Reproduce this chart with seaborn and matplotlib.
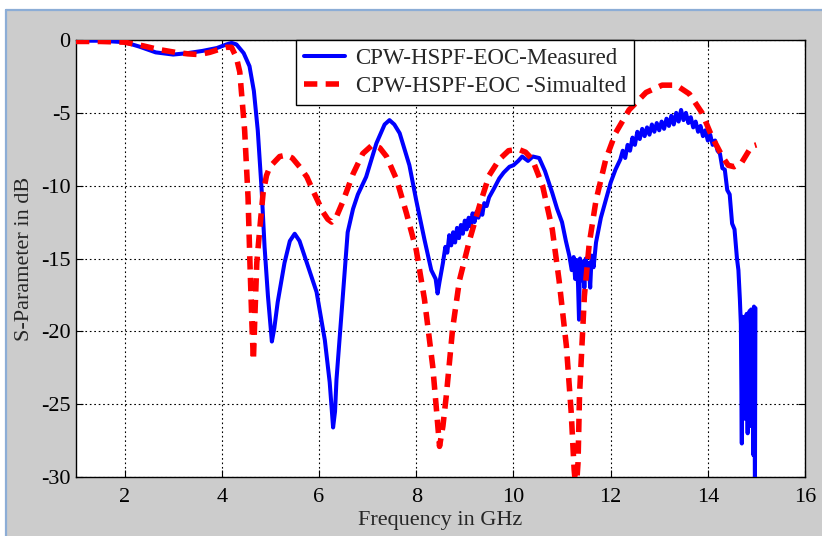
import matplotlib
matplotlib.use("Agg")
import matplotlib.pyplot as plt
from matplotlib.patches import Rectangle
from matplotlib.lines import Line2D
import pandas as pd
import seaborn as sns

# Measured response (GHz, dB), split into sweep segments
meas_freq_a = [
    1.00, 1.50, 2.00, 2.30, 2.64, 3.00, 3.30, 3.60, 3.90, 4.10, 4.20, 4.30,
    4.45, 4.57, 4.66, 4.74, 4.82, 4.88, 4.95, 5.03, 5.08, 5.15, 5.29, 5.40,
    5.50, 5.60, 5.75, 5.95, 6.12, 6.22, 6.29, 6.33, 6.36, 6.49, 6.59, 6.70,
    6.80, 6.97, 7.18, 7.35, 7.45, 7.55, 7.66, 7.86, 8.00, 8.17, 8.31, 8.40,
    8.44, 8.48,
]
meas_db_a = [
    -0.05, -0.05, -0.15, -0.45, -0.85, -1.00, -0.90, -0.75, -0.55, -0.30, -0.20, -0.30,
    -0.90, -1.80, -3.50, -6.20, -10.3, -14.2, -17.6, -20.7, -19.8, -18.0, -15.3, -13.8,
    -13.3, -13.8, -15.3, -17.3, -20.6, -23.5, -26.6, -25.5, -23.3, -17.6, -13.2, -11.6,
    -10.6, -9.40, -7.10, -5.80, -5.50, -5.80, -6.40, -8.60, -11.0, -13.7, -15.8, -16.4,
    -17.4, -16.6,
]
meas_freq_b = [
    8.55, 8.60, 8.64, 8.68, 8.72, 8.76, 8.80, 8.84, 8.88, 8.92, 8.96, 9.00,
    9.04, 9.08, 9.12, 9.16, 9.20, 9.24, 9.28, 9.32, 9.36, 9.40, 9.45, 9.50,
    9.55, 9.60, 9.71, 9.80, 9.92, 10.00, 10.10, 10.18, 10.30, 10.40, 10.53, 10.65,
    10.80, 10.90, 11.00, 11.08, 11.15,
]
meas_db_b = [
    -15.3, -14.2, -14.6, -13.4, -14.1, -13.2, -13.9, -12.9, -13.6, -12.7, -13.3, -12.4,
    -13.0, -12.2, -12.8, -11.9, -12.5, -11.8, -12.2, -11.5, -12.0, -11.2, -11.4, -10.8,
    -10.5, -10.2, -9.50, -9.10, -8.70, -8.60, -8.30, -8.00, -8.30, -8.00, -8.10, -9.00,
    -10.5, -11.6, -12.5, -13.8, -14.8,
]
meas_freq_c = [
    11.20, 11.24, 11.27, 11.30, 11.33, 11.35, 11.37, 11.40, 11.43, 11.46, 11.49, 11.52,
    11.55, 11.58, 11.61, 11.65, 11.70, 11.80, 11.90, 12.00, 12.10, 12.20,
]
meas_db_c = [
    -15.8, -14.9, -16.4, -15.1, -16.8, -19.2, -15.0, -16.5, -15.2, -17.0, -15.0, -16.3,
    -15.3, -17.0, -14.8, -15.6, -13.9, -12.2, -11.0, -9.80, -8.90, -8.20,
]
meas_freq_d = [
    12.25, 12.30, 12.35, 12.40, 12.45, 12.50, 12.55, 12.60, 12.65, 12.70, 12.75, 12.80,
    12.85, 12.90, 12.95, 13.00, 13.05, 13.10, 13.15, 13.20, 13.25, 13.30, 13.35, 13.40,
    13.45, 13.50, 13.55, 13.60, 13.65, 13.70, 13.75, 13.80, 13.85, 13.90, 13.95, 14.00,
    14.05, 14.10, 14.15, 14.20, 14.25, 14.30, 14.35, 14.40, 14.45, 14.50, 14.55, 14.60,
    14.63, 14.66,
]
meas_db_d = [
    -7.6, -8.1, -7.2, -7.6, -6.7, -7.2, -6.3, -6.8, -6.1, -6.6, -6.0, -6.5,
    -5.8, -6.3, -5.7, -6.2, -5.6, -6.1, -5.4, -5.9, -5.2, -5.8, -5.0, -5.6,
    -4.8, -5.5, -5.0, -5.7, -5.3, -6.0, -5.6, -6.3, -5.9, -6.6, -6.2, -6.9,
    -6.5, -7.2, -6.9, -7.6, -7.8, -8.8, -8.9, -10.3, -10.6, -12.6, -13.0, -15.0,
    -15.8, -17.8,
]
meas_freq_e = [
    14.68, 14.70, 14.71, 14.73, 14.74, 14.76, 14.77, 14.79, 14.80, 14.82, 14.83, 14.85,
    14.86, 14.88, 14.89, 14.91, 14.92, 14.94, 14.95, 14.97, 14.98,
]
meas_db_e = [
    -19.5, -27.7, -19.0, -24.5, -19.5, -26.0, -19.0, -23.5, -18.8, -27.0, -19.5, -25.0,
    -18.6, -26.5, -18.5, -24.0, -19.0, -28.5, -18.3, -30.5, -18.4,
]

# Simulated response (GHz, dB)
sim_freq = [
    1.00, 1.50, 2.00, 2.38, 2.70, 3.05, 3.30, 3.53, 3.75, 3.94, 4.10, 4.20,
    4.30, 4.37, 4.47, 4.54, 4.58, 4.62, 4.65, 4.68, 4.72, 4.78, 4.85, 4.92,
    4.99, 5.19, 5.33, 5.45, 5.60, 5.75, 5.87, 6.08, 6.18, 6.26, 6.35, 6.49,
    6.70, 6.90, 7.10, 7.25, 7.39, 7.60, 7.80, 8.00, 8.17, 8.34, 8.42, 8.48,
    8.55, 8.62, 8.75, 8.89, 9.10, 9.30, 9.50, 9.71, 9.90, 10.10, 10.25, 10.39,
    10.60, 10.80, 10.94, 11.09, 11.19, 11.25, 11.29, 11.33, 11.36, 11.46, 11.56, 11.70,
    11.90, 12.10, 12.38, 12.73, 13.06, 13.35, 13.62, 13.88, 14.08, 14.30, 14.42, 14.54,
    14.70, 14.90, 15.00,
]
sim_db = [
    -0.10, -0.10, -0.15, -0.40, -0.65, -0.85, -0.95, -1.00, -0.85, -0.65, -0.50, -0.50,
    -1.20, -2.20, -6.20, -10.8, -15.4, -19.5, -22.0, -19.0, -15.3, -13.0, -10.5, -9.30,
    -8.70, -8.00, -7.90, -8.10, -8.70, -9.40, -10.3, -11.8, -12.3, -12.5, -12.2, -11.1,
    -9.20, -7.80, -7.20, -7.40, -8.00, -9.60, -11.9, -14.4, -17.8, -22.4, -25.5, -27.9,
    -26.5, -24.4, -19.8, -16.5, -13.7, -11.4, -9.30, -8.20, -7.60, -7.50, -7.70, -8.20,
    -10.0, -13.0, -16.5, -21.0, -25.6, -29.5, -31.0, -29.0, -24.4, -17.6, -14.0, -11.0,
    -8.20, -6.40, -4.80, -3.60, -3.10, -3.10, -3.70, -5.00, -6.60, -8.00, -8.60, -8.70,
    -8.40, -7.30, -7.20,
]

label_meas = "CPW-HSPF-EOC-Measured"
label_sim = "CPW-HSPF-EOC -Simualted"

x_ticks = [2, 4, 6, 8, 10, 12, 14, 16]
y_ticks = [0, -5, -10, -15, -20, -25, -30]

meas_freq = meas_freq_a + meas_freq_b + meas_freq_c + meas_freq_d + meas_freq_e
meas_db = meas_db_a + meas_db_b + meas_db_c + meas_db_d + meas_db_e

sns.set_style("ticks")
plt.rcParams["font.family"] = ["Liberation Serif", "DejaVu Serif"]

W, H = 822, 536
fig = plt.figure(figsize=(W / 100, H / 100), dpi=100, facecolor="white")

# window-style gray panel with a light blue edge
frame_top = 10
fig.add_artist(Rectangle((6 / W, 0), 1 - 6 / W, (H - frame_top) / H,
                         transform=fig.transFigure, facecolor="#cccccc",
                         edgecolor="none", zorder=-10))
fig.add_artist(Line2D([6 / W, 6 / W], [0, (H - frame_top) / H],
                      transform=fig.transFigure, color="#8cadd6", lw=1.6, zorder=-9))
fig.add_artist(Line2D([6 / W, 1], [(H - frame_top) / H, (H - frame_top) / H],
                      transform=fig.transFigure, color="#8cadd6", lw=1.6, zorder=-9))

ax_l, ax_r, ax_t, ax_b = 76, 805, 40, 477
ax = fig.add_axes([ax_l / W, (H - ax_b) / H, (ax_r - ax_l) / W, (ax_b - ax_t) / H])
ax.set_zorder(5)
ax.set_facecolor("white")

df_meas = pd.DataFrame({"freq": meas_freq, "db": meas_db})
df_sim = pd.DataFrame({"freq": sim_freq, "db": sim_db})

sns.lineplot(data=df_meas, x="freq", y="db", ax=ax, color="#0000ff", lw=2.9,
             sort=False, estimator=None, label=label_meas, zorder=3)
sns.lineplot(data=df_sim, x="freq", y="db", ax=ax, color="#ff0000", lw=4.0,
             sort=False, estimator=None, label=label_sim, zorder=4)
ax.lines[1].set_dashes((2.4, 1.5))

ax.set_xlim(1, 16)
ax.set_ylim(-30, 0)
ax.set_xticks(x_ticks)
ax.set_yticks(y_ticks)
ax.set_xticklabels([str(v) for v in x_ticks])
ax.set_yticklabels([str(v) for v in y_ticks])

ax.grid(True, color="black", linestyle=(0, (1.5, 2.5)), linewidth=0.8)
ax.tick_params(direction="in", length=5, width=0.8, top=True, right=True,
               labelsize=16, colors="black")
ax.tick_params(axis="x", pad=8)
ax.tick_params(axis="y", pad=4)
for s in ax.spines.values():
    s.set_visible(True)
    s.set_color("black")
    s.set_linewidth(1.0)

ax.set_xlabel("Frequency in GHz", fontsize=16, labelpad=3)
ax.set_ylabel("S-Parameter in dB", fontsize=16, labelpad=5)

leg = ax.legend(loc="upper left", bbox_to_anchor=((296 - ax_l) / (ax_r - ax_l), 1.0),
                fontsize=16.5, frameon=True, fancybox=False, borderaxespad=0,
                handlelength=1.8, handletextpad=0.45, borderpad=0.35,
                labelspacing=0.3, framealpha=1)
leg.get_frame().set_edgecolor("black")
leg.get_frame().set_linewidth(1.0)
leg.get_lines()[1].set_dashes((2.4, 1.5))

fig.savefig("out.png", dpi=100, facecolor="white")
